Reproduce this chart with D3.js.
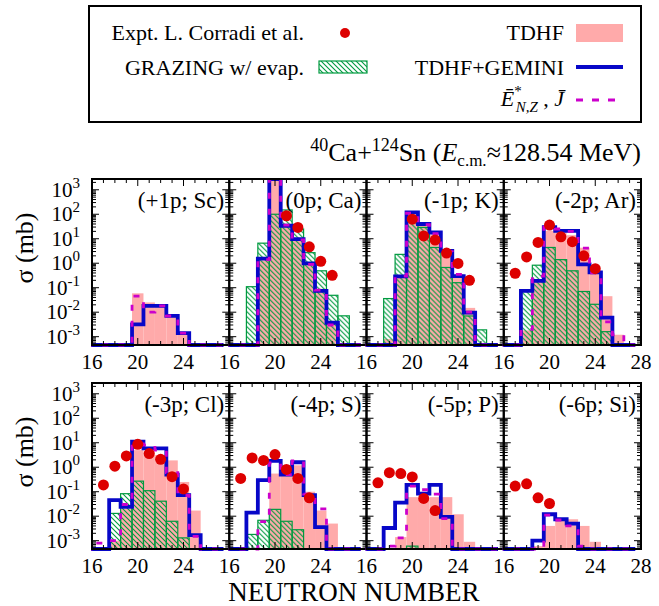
<!DOCTYPE html>
<html>
<head>
<meta charset="utf-8">
<script src="https://cdn.jsdelivr.net/npm/d3@7"></script>
<style>
  body { margin: 0; background: #fff; }
  text { font-family: "Liberation Serif", "Times New Roman", serif; fill: #000; }
</style>
</head>
<body>
<div id="chart"></div>
<script>
// neutron number of each bin (bins are 1 wide, centred on N)
const N_BINS = [16, 17, 18, 19, 20, 21, 22, 23, 24, 25, 26, 27];
const PANEL_LABELS = ["(+1p; Sc)", "(0p; Ca)", "(-1p; K)", "(-2p; Ar)",
                      "(-3p; Cl)", "(-4p; S)", "(-5p; P)", "(-6p; Si)"];
const X_TICKS = [16, 20, 24, 28];
const Y_TICKS = [1e-3, 1e-2, 1e-1, 1e0, 1e1, 1e2, 1e3];

// cross sections (mb), one row per panel, columns follow N_BINS; 0 = nothing
const TDHF = [
  [0, 0, 0, 0, 0.059, 0.025, 0.02, 0.008, 0.0015, 0, 0, 0],
  [0, 0, 0, 1.3, 8000, 40, 10, 1.0, 0.09, 0.004, 0, 0],
  [0, 0, 0.0008, 0.3, 100, 35, 15, 3, 0.35, 0.015, 0, 0],
  [0, 0, 0.0018, 0.22, 21, 25, 14, 4.3, 0.5, 0.045, 0.0012, 0],
  [0, 0, 0.001, 0.02, 5, 4.3, 3.1, 1.9, 0.25, 0.017, 0, 0],
  [0, 0, 0, 0, 0.55, 1.2, 1.2, 0.1, 0.017, 0.005, 0, 0],
  [0, 0, 0, 0.0014, 0.06, 0.05, 0.06, 0.06, 0.012, 0.0009, 0, 0],
  [0, 0, 0, 0.0006, 0.004, 0.008, 0.0075, 0.004, 0.0009, 0, 0, 0]
];
const GEMINI = [
  [0, 0, 0, 0, 0.0032, 0.018, 0.018, 0.0071, 0.0014, 0, 0, 0],
  [0, 0, 0, 1.55, 8000, 34, 9.6, 0.98, 0.074, 0.0037, 0, 0],
  [0, 0, 0, 0.29, 120, 40, 18, 3.2, 0.3, 0.0096, 0, 0],
  [0, 0, 0.074, 0.19, 30, 21, 21, 0.9, 0.42, 0.006, 0, 0],
  [0, 0, 0.045, 0.024, 11, 5.9, 5.9, 0.5, 0.073, 0.0017, 0, 0],
  [0, 0, 0.014, 0.30, 1.8, 0.50, 1.6, 0.073, 0.0036, 0, 0, 0],
  [0, 0, 0.0033, 0.036, 0.19, 0.084, 0.19, 0.0093, 0, 0, 0, 0],
  [0, 0, 0, 0.001, 0.012, 0.0075, 0.005, 0, 0, 0, 0, 0]
];
const MEAN_EJ = [
  [0, 0, 0, 0, 0.045, 0.010, 0.018, 0.007, 0.0014, 0, 0, 0],
  [0, 0, 0, 1.4, 8000, 36, 9, 0.9, 0.08, 0.003, 0, 0],
  [0, 0, 0, 0.3, 110, 38, 16, 3, 0.35, 0.01, 0, 0],
  [0, 0, 0.002, 0.3, 30, 25, 20, 4.1, 0.4, 0.004, 0.0012, 0],
  [0, 0.0008, 0.001, 0.03, 9, 8, 5, 0.6, 0.07, 0.0015, 0, 0],
  [0, 0, 0, 0.006, 1.5, 0.5, 1.8, 0.08, 0.02, 0, 0, 0],
  [0, 0, 0.0006, 0.0013, 0.17, 0.12, 0.08, 0.008, 0, 0, 0, 0],
  [0, 0, 0, 0, 0.011, 0.007, 0.004, 0.0006, 0, 0, 0, 0]
];
const GRAZING = [
  [0, 0, 0, 0, 0, 0, 0, 0, 0, 0, 0, 0],
  [0, 0, 0.11, 6.6, 100, 150, 25, 2.7, 0.49, 0.049, 0.0071, 0],
  [0, 0, 0.036, 2.3, 63, 29, 4.4, 0.67, 0.16, 0.007, 0.0019, 0],
  [0, 0, 0.07, 0.83, 4.4, 1.4, 0.49, 0.07, 0.021, 0.0016, 0, 0],
  [0, 0, 0.013, 0.083, 0.27, 0.11, 0.041, 0.0062, 0.0013, 0, 0, 0],
  [0, 0, 0.0018, 0.0068, 0.019, 0.0062, 0.0028, 0, 0, 0, 0, 0],
  [0, 0, 0, 0, 0.0006, 0, 0, 0, 0, 0, 0, 0],
  [0, 0, 0, 0, 0, 0, 0, 0, 0, 0, 0, 0]
];
const EXPT = [
  [0, 0, 0, 0, 0, 0, 0, 0, 0, 0, 0, 0],
  [0, 0, 0, 0, 0, 87, 29, 4.7, 1.2, 0.32, 0, 0],
  [0, 0, 0, 0, 63, 13, 8.8, 2.6, 0.98, 0.20, 0, 0],
  [0, 0.39, 1.8, 7.1, 36, 12, 7.6, 2.0, 0.6, 0, 0, 0],
  [0, 0.19, 1.1, 2.9, 8.6, 3.6, 2.1, 0.41, 0.13, 0, 0, 0],
  [0, 0.35, 2.4, 1.9, 3.3, 0.81, 0.35, 0.056, 0, 0, 0, 0],
  [0, 0.23, 0.60, 0.55, 0.40, 0.053, 0.017, 0, 0, 0, 0, 0],
  [0, 0.17, 0.21, 0.056, 0.033, 0, 0, 0, 0, 0, 0, 0]
];

const WIDTH = 659;
const HEIGHT = 606;
const LEFT = 92;
const PANEL_W = 137.25;
const PANEL_H = 166;
const ROW_TOP = [179, 383];

const PINK = "#ffaaaa";
const GREEN = "#009a40";
const BLUE = "#0707c8";
const MAGENTA = "#cc00cc";
const RED = "#dd0000";

const SVG = d3.select("#chart").append("svg")
  .attr("width", WIDTH)
  .attr("height", HEIGHT);

const DEFS = SVG.append("defs");
const HATCH = DEFS.append("pattern")
  .attr("id", "hatch")
  .attr("patternUnits", "userSpaceOnUse")
  .attr("width", 5)
  .attr("height", 5);
HATCH.append("path")
  .attr("d", "M-1,-1L6,6M-1,4L1,6M4,-1L6,1")
  .attr("stroke", GREEN)
  .attr("stroke-width", 1.1);

const X_SCALE = d3.scaleLinear().domain([16, 28]).range([0, PANEL_W]);
const Y_SCALE = d3.scaleLog()
  .domain([Math.pow(10, -3.34), Math.pow(10, 3.44)])
  .range([PANEL_H, 0])
  .clamp(true);

const yOf = (v) => (v > 0 ? Y_SCALE(v) : PANEL_H);

function stepPoints(values) {
  const pts = [];
  N_BINS.forEach((n, i) => {
    const y = yOf(values[i]);
    pts.push([X_SCALE(n - 0.5), y], [X_SCALE(n + 0.5), y]);
  });
  return pts;
}

const LINE = d3.line();

PANEL_LABELS.forEach((label, p) => {
  const row = Math.floor(p / 4);
  const col = p % 4;
  const g = SVG.append("g")
    .attr("transform", "translate(" + (LEFT + col * PANEL_W) + "," + ROW_TOP[row] + ")");

  DEFS.append("clipPath").attr("id", "clip" + p)
    .append("rect")
    .attr("x", -1).attr("y", 0)
    .attr("width", PANEL_W + 2).attr("height", PANEL_H + 3);

  const area = g.append("g").attr("clip-path", "url(#clip" + p + ")");

  // TDHF filled bars
  area.selectAll("rect.tdhf")
    .data(N_BINS.map((n, i) => [n, TDHF[p][i]]).filter((d) => d[1] > 0))
    .enter().append("rect")
    .attr("class", "tdhf")
    .attr("x", (d) => X_SCALE(d[0] - 0.5))
    .attr("width", X_SCALE(1) - X_SCALE(0))
    .attr("y", (d) => yOf(d[1]))
    .attr("height", (d) => PANEL_H - yOf(d[1]))
    .attr("fill", PINK);

  // GRAZING hatched bars
  area.selectAll("rect.grazing")
    .data(N_BINS.map((n, i) => [n, GRAZING[p][i]]).filter((d) => d[1] > 0))
    .enter().append("rect")
    .attr("class", "grazing")
    .attr("x", (d) => X_SCALE(d[0] - 0.5))
    .attr("width", X_SCALE(1) - X_SCALE(0))
    .attr("y", (d) => yOf(d[1]))
    .attr("height", (d) => PANEL_H - yOf(d[1]))
    .attr("fill", "url(#hatch)")
    .attr("stroke", GREEN)
    .attr("stroke-width", 1.2);

  // frame
  g.append("rect")
    .attr("width", PANEL_W).attr("height", PANEL_H)
    .attr("fill", "none").attr("stroke", "#000").attr("stroke-width", 2);

  // ticks
  const ticks = g.append("g").attr("stroke", "#000").attr("stroke-width", 1);
  Y_TICKS.forEach((t) => {
    const y = Y_SCALE(t);
    ticks.append("line").attr("x1", 0).attr("x2", 7).attr("y1", y).attr("y2", y);
    ticks.append("line").attr("x1", PANEL_W - 7).attr("x2", PANEL_W).attr("y1", y).attr("y2", y);
  });
  for (let k = -4; k <= 3; k++) {
    for (let m = 2; m <= 9; m++) {
      const v = m * Math.pow(10, k);
      const [lo, hi] = Y_SCALE.domain();
      if (v < lo || v > hi) continue;
      const y = Y_SCALE(v);
      ticks.append("line").attr("x1", 0).attr("x2", 4).attr("y1", y).attr("y2", y);
      ticks.append("line").attr("x1", PANEL_W - 4).attr("x2", PANEL_W).attr("y1", y).attr("y2", y);
    }
  }
  d3.range(17, 28).forEach((n) => {
    const len = X_TICKS.includes(n) ? 7 : 4;
    const x = X_SCALE(n);
    ticks.append("line").attr("x1", x).attr("x2", x).attr("y1", PANEL_H).attr("y2", PANEL_H - len);
    ticks.append("line").attr("x1", x).attr("x2", x).attr("y1", 0).attr("y2", len);
  });

  // TDHF+GEMINI and mean E*, J lines
  area.append("path")
    .attr("d", LINE(stepPoints(GEMINI[p])))
    .attr("fill", "none")
    .attr("stroke", BLUE)
    .attr("stroke-width", 3.8);
  area.append("path")
    .attr("d", LINE(stepPoints(MEAN_EJ[p])))
    .attr("fill", "none")
    .attr("stroke", MAGENTA)
    .attr("stroke-width", 2.8)
    .attr("stroke-dasharray", "6,10");

  // experimental points
  area.selectAll("circle")
    .data(N_BINS.map((n, i) => [n, EXPT[p][i]]).filter((d) => d[1] > 0))
    .enter().append("circle")
    .attr("cx", (d) => X_SCALE(d[0]))
    .attr("cy", (d) => Y_SCALE(d[1]))
    .attr("r", 5.5)
    .attr("fill", RED);

  // panel label
  g.append("text")
    .attr("x", PANEL_W - 5)
    .attr("y", 29)
    .attr("text-anchor", "end")
    .style("font-size", "23px")
    .text(label);

  // x tick labels
  X_TICKS.filter((t) => t < 28 || col === 3).forEach((t) => {
    g.append("text")
      .attr("x", X_SCALE(t))
      .attr("y", PANEL_H + 24)
      .attr("text-anchor", "middle")
      .style("font-size", "21px")
      .text(t);
  });

  // y tick labels on the first column
  if (col === 0) {
    Y_TICKS.forEach((t) => {
      const e = Math.round(Math.log10(t));
      const lab = g.append("text")
        .attr("x", -12)
        .attr("y", Y_SCALE(t) + 7)
        .attr("text-anchor", "end")
        .style("font-size", "21px");
      lab.append("tspan").text("10");
      lab.append("tspan").attr("dy", -9).style("font-size", "15px").text(e);
    });
    g.append("text")
      .attr("transform", "translate(" + (-LEFT + 33) + "," + (PANEL_H / 2 - 14) + ") rotate(-90)")
      .attr("text-anchor", "middle")
      .style("font-size", "26px")
      .text("σ (mb)");
  }
});

// x axis title
SVG.append("text")
  .attr("x", 354)
  .attr("y", 601)
  .attr("text-anchor", "middle")
  .style("font-size", "27px")
  .text("NEUTRON NUMBER");

// reaction title
const TITLE = SVG.append("text")
  .attr("x", 641)
  .attr("y", 161)
  .attr("text-anchor", "end")
  .style("font-size", "26px");
TITLE.append("tspan").attr("dy", -10).style("font-size", "18px").text("40");
TITLE.append("tspan").attr("dy", 10).text("Ca+");
TITLE.append("tspan").attr("dy", -10).style("font-size", "18px").text("124");
TITLE.append("tspan").attr("dy", 10).text("Sn (");
TITLE.append("tspan").style("font-style", "italic").text("E");
TITLE.append("tspan").attr("dy", 5).style("font-size", "17px").text("c.m.");
TITLE.append("tspan").attr("dy", -5).text("≈128.54 MeV)");

// legend
const LEGEND = SVG.append("g");
LEGEND.append("rect")
  .attr("x", 89).attr("y", 6)
  .attr("width", 552).attr("height", 116)
  .attr("fill", "#fff").attr("stroke", "#000").attr("stroke-width", 2);

LEGEND.append("text").attr("x", 304).attr("y", 40).attr("text-anchor", "end")
  .style("font-size", "22px").text("Expt. L. Corradi et al.");
LEGEND.append("circle").attr("cx", 345).attr("cy", 33).attr("r", 5).attr("fill", RED);

LEGEND.append("text").attr("x", 304).attr("y", 75).attr("text-anchor", "end")
  .style("font-size", "22px").text("GRAZING w/ evap.");
LEGEND.append("rect").attr("x", 319).attr("y", 61).attr("width", 48).attr("height", 12)
  .attr("fill", "url(#hatch)").attr("stroke", GREEN).attr("stroke-width", 1.2);

LEGEND.append("text").attr("x", 564).attr("y", 40).attr("text-anchor", "end")
  .style("font-size", "22px").text("TDHF");
LEGEND.append("rect").attr("x", 576).attr("y", 24).attr("width", 47).attr("height", 18)
  .attr("fill", PINK);

LEGEND.append("text").attr("x", 564).attr("y", 75).attr("text-anchor", "end")
  .style("font-size", "22px").text("TDHF+GEMINI");
LEGEND.append("line").attr("x1", 576).attr("x2", 623).attr("y1", 67).attr("y2", 67)
  .attr("stroke", BLUE).attr("stroke-width", 3.8);

const EJ_TEXT = LEGEND.append("text").attr("x", 564).attr("y", 106).attr("text-anchor", "end")
  .style("font-size", "22px");
EJ_TEXT.append("tspan").style("font-style", "italic").text("Ē");
EJ_TEXT.append("tspan").attr("dy", -10).style("font-size", "15px").text("*");
EJ_TEXT.append("tspan").attr("dx", -6).attr("dy", 16).style("font-size", "15px")
  .style("font-style", "italic").text("N,Z");
EJ_TEXT.append("tspan").attr("dy", -6).text(" ,  ");
EJ_TEXT.append("tspan").style("font-style", "italic").text("J\u0304");
LEGEND.append("line").attr("x1", 576).attr("x2", 623).attr("y1", 100).attr("y2", 100)
  .attr("stroke", MAGENTA).attr("stroke-width", 2.8).attr("stroke-dasharray", "7,9");
</script>
</body>
</html>
